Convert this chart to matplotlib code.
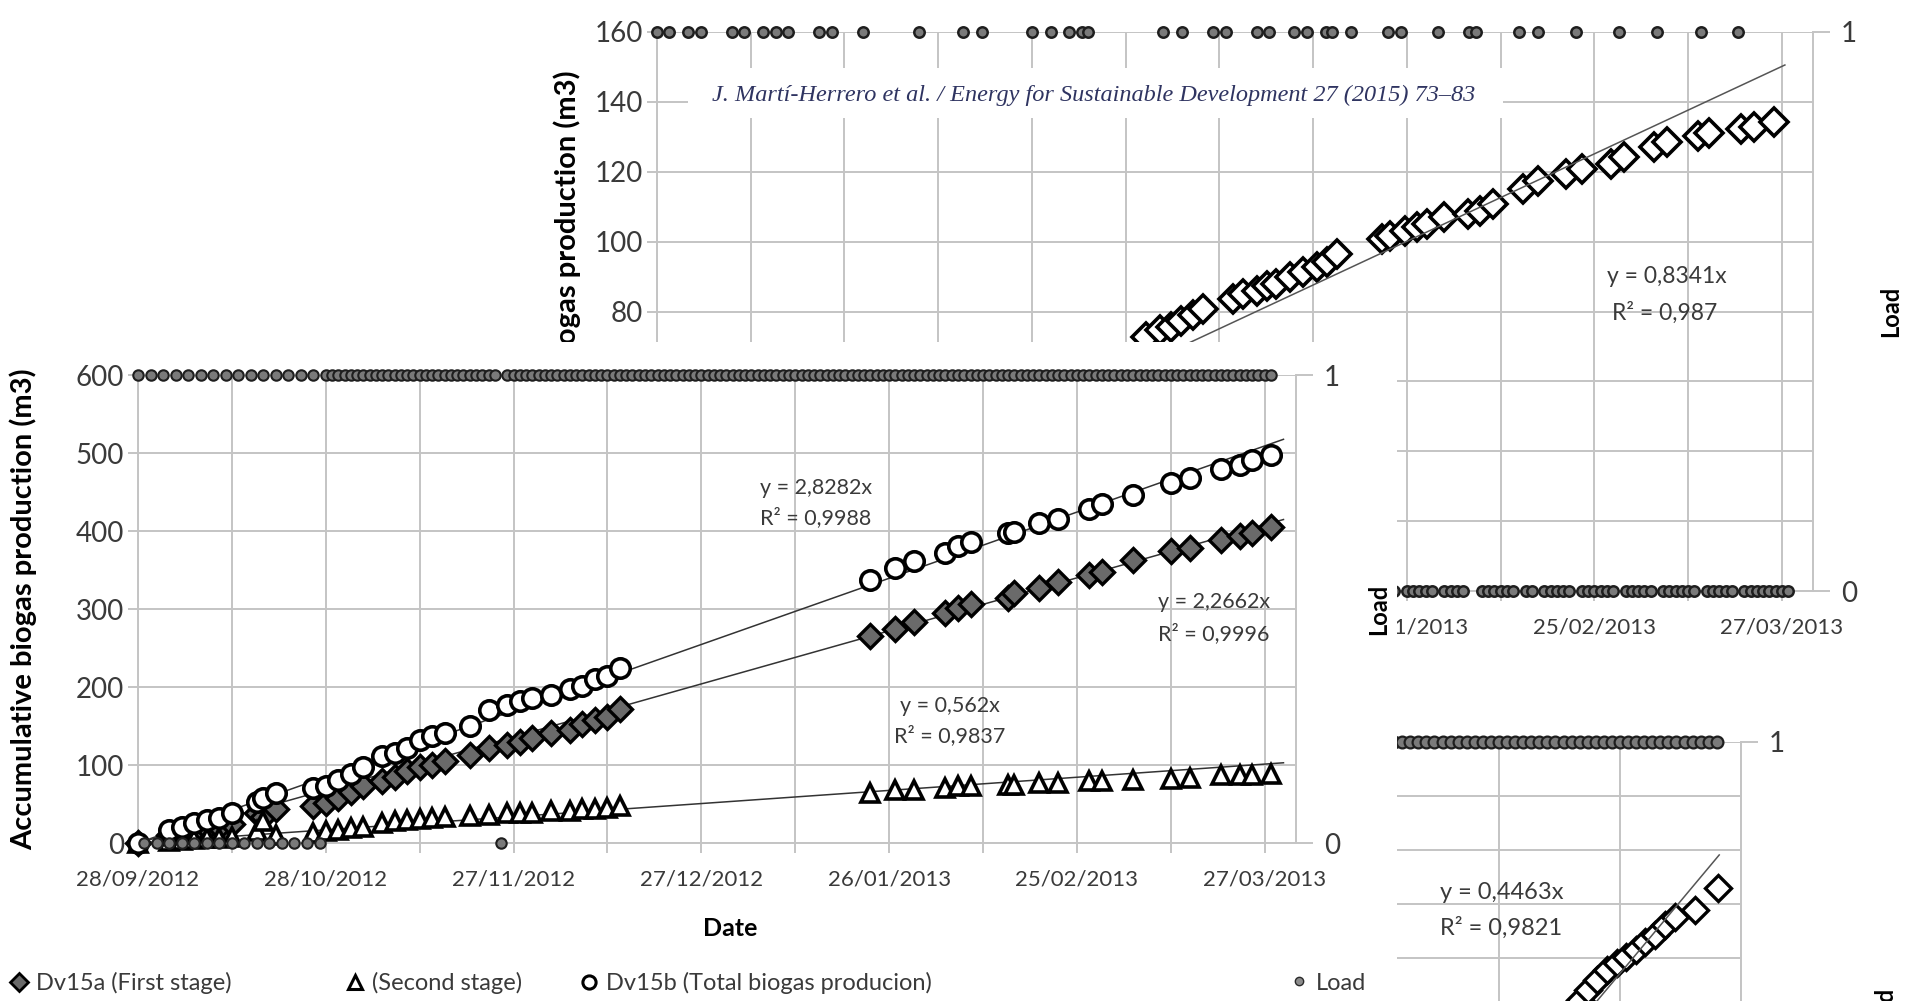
from datetime import date, timedelta

import matplotlib
matplotlib.use("Agg")
import matplotlib.pyplot as plt
import numpy as np
from matplotlib.legend import Legend
from matplotlib.lines import Line2D
from matplotlib.patches import Rectangle
from matplotlib.ticker import FuncFormatter, MultipleLocator

plt.rcParams["font.family"] = ["Lato", "DejaVu Sans"]

W, H = 1915, 1001
START = date(2012, 9, 28)
GRID = "#c4c4c4"
INK = "#3a3a3a"

# Dv15 digester (front chart); x = days since 28/09/2012
dv15_days = [0, 5, 7, 9, 11, 13, 15, 19, 20, 22, 28, 30, 32, 34, 36, 39, 41, 43, 45, 47,
             49, 53, 56, 59, 61, 63, 66, 69, 71, 73, 75, 77,
             117, 121, 124, 129, 131, 133, 139, 140, 144, 147, 152, 154, 159, 165, 168,
             173, 176, 178, 181]
dv15a_first = [0, 10, 13, 16, 19, 21, 24, 38, 33, 43, 47, 51, 58, 66, 73, 79, 85, 92, 98, 100,
               105, 113, 122, 126, 130, 134, 141, 145, 152, 158, 162, 172,
               265, 275, 283, 295, 301, 307, 314, 320, 327, 335, 344, 348, 363, 375, 378,
               389, 393, 398, 405]
dv15_second = [0, 3, 4, 5, 6, 7, 8, 15, 28, 10, 13, 15, 17, 19, 21, 26, 28, 30, 31, 32,
               33, 34, 36, 38, 38, 39, 41, 41, 43, 44, 45, 47,
               64, 68, 68, 70, 73, 73, 75, 75, 77, 77, 79, 79, 81, 82, 83, 87, 87, 87, 88]
dv15b_total = [0, 17, 21, 26, 30, 32, 38, 53, 58, 64, 70, 73, 81, 88, 98, 111, 115, 122, 132, 137,
               141, 150, 171, 177, 182, 186, 190, 197, 201, 210, 214, 224,
               337, 353, 361, 372, 381, 386, 397, 399, 410, 416, 428, 435, 446, 461, 468,
               480, 485, 491, 497]
dv15_load_days = np.arange(0, 182)
dv15_load_off_days = [1, 3, 5, 7, 9, 11, 13, 15, 17, 19, 21, 23, 25, 27, 29, 58]
dv15_fits = [(2.8282, "0,9988"), (2.2662, "0,9996"), (0.562, "0,9837")]

# digester behind, upper right
back_days = [78.3, 80.5, 82.3, 83.9, 85.8, 87.4, 92.2, 93.8, 96.0, 97.6, 99.1, 101.3, 103.4,
             105.6, 107.2, 108.8, 116.0, 117.3, 119.7, 121.6, 123.2, 125.9, 129.8, 131.7,
             133.8, 138.6, 141.0, 145.5, 148.0, 152.6, 154.8, 159.5, 161.6, 166.6, 168.4,
             173.4, 175.6, 178.7]
back_gas = [72.7, 74.6, 75.5, 77.4, 78.9, 80.8, 83.6, 85.1, 86.0, 87.4, 87.9, 89.8, 91.2,
            92.7, 94.1, 96.5, 100.8, 101.7, 103.1, 104.1, 105.1, 107.0, 107.9, 108.9,
            110.8, 115.0, 117.4, 119.3, 120.8, 122.2, 124.1, 127.0, 128.4, 130.3, 131.2,
            132.2, 132.7, 134.1]
back_load_days = np.arange(0, 182)
back_load_on_days = [0, 2, 5, 7, 12, 14, 17, 19, 21, 26, 28, 33, 42, 49, 52, 60, 63, 66, 68, 69,
                     81, 84, 89, 91, 96, 98, 102, 104, 107, 108, 111, 117, 119, 125, 130, 131,
                     138, 141, 147, 154, 160, 167, 173]
back_fit = (0.8341, "0,987")

# digester in the lower right corner
corner_days = [54.0, 56.0, 58.3, 60.7, 63.2, 65.5, 67.9, 70.2, 72.7, 75.1, 77.6, 82.6, 88.3]
corner_gas = [26.1, 27.0, 28.0, 28.9, 29.5, 30.1, 30.7, 31.5, 32.1, 33.1, 33.8, 34.4, 36.5]
corner_load_days = np.arange(4, 90, 2)
corner_fit = (0.4463, "0,9821")


def fig_rect(left, top, right, bottom):
    return [left / W, 1 - bottom / H, (right - left) / W, (bottom - top) / H]


def date_label(day, _pos):
    return (START + timedelta(days=int(round(day)))).strftime("%d/%m/%Y")


def make_chart(rect, zorder, *, xlim, ylim, ystep, xmajor, xminor=None, xoffset=0.0):
    ax = fig.add_axes(rect)
    ax.set_zorder(zorder)
    ax.patch.set_visible(False)
    ax.set_xlim(xlim)
    ax.set_ylim(ylim)
    ax.xaxis.set_major_locator(MultipleLocator(xmajor, offset=xoffset))
    if xminor:
        ax.xaxis.set_minor_locator(MultipleLocator(xminor, offset=xoffset))
    ax.xaxis.set_major_formatter(FuncFormatter(date_label))
    ax.yaxis.set_major_locator(MultipleLocator(ystep))
    ax.grid(which="both", axis="x", color=GRID, lw=1.4)
    ax.grid(which="major", axis="y", color=GRID, lw=1.4)
    ax.set_axisbelow(True)
    for side in ("top", "right"):
        ax.spines[side].set_visible(False)
    for side in ("left", "bottom"):
        ax.spines[side].set_color(GRID)
        ax.spines[side].set_linewidth(1.4)
    ax.tick_params(which="both", color=GRID, width=1.4, length=7, labelcolor=INK)
    ax.tick_params(axis="x", labelsize=16, pad=12)
    ax.tick_params(axis="y", labelsize=20, pad=3)

    ax_load = ax.twinx()
    ax_load.set_zorder(zorder + 0.05)
    ax_load.patch.set_visible(False)
    ax_load.set_ylim(0, 1)
    ax_load.set_yticks([0, 1])
    for side in ("top", "left", "bottom"):
        ax_load.spines[side].set_visible(False)
    ax_load.spines["right"].set_color(GRID)
    ax_load.spines["right"].set_linewidth(1.4)
    ax_load.tick_params(color=GRID, width=1.4, length=12, labelcolor=INK, labelsize=20, pad=8)
    return ax, ax_load


load_style = dict(ls="none", marker="o", mfc="#7a7a7a", mec="#1e1e1e", clip_on=False)
open_diamond = dict(ls="none", marker="D", mfc="white", mec="black", clip_on=False)

fig = plt.figure(figsize=(W / 100, H / 100), dpi=100, facecolor="white")

# ---- chart behind, top right ----
ax_b, ax_bl = make_chart(fig_rect(657, 32, 1813, 591), 0,
                         xlim=(0, 185), ylim=(0, 160), ystep=20, xmajor=30, xminor=15)
# tick labels that sit under the front chart are left blank
ax_b.xaxis.set_major_formatter(FuncFormatter(lambda d, p: date_label(d, p) if d >= 120 else ""))
ax_b.yaxis.set_major_formatter(FuncFormatter(lambda v, p: f"{v:.0f}" if v >= 80 else ""))
ax_b.plot(back_days, back_gas, ms=14, mew=2.6, **open_diamond)
fit_x = np.array([0, 180.5])
ax_b.plot(fit_x, back_fit[0] * fit_x, color="#555555", lw=1.1)
ax_b.text(161.6, 90, f"y = {back_fit[0]:.4f}x".replace(".", ","), ha="center", va="center",
          fontsize=16.5, color=INK)
ax_b.text(161.3, 79.6, f"R² = {back_fit[1]}", ha="center", va="center", fontsize=16.5, color=INK)
back_load = np.isin(back_load_days, back_load_on_days).astype(int)
ax_bl.plot(back_load_days, back_load, ms=7.5, mew=1.8, **load_style)
ax_b.set_ylabel("Accumulative biogas production (m3)", fontsize=21, fontweight="bold")
ax_b.yaxis.set_label_coords(-0.066, 0.5)
ax_bl.set_ylabel("Load", fontsize=17, fontweight="bold")
ax_bl.yaxis.set_label_coords(1.057, 0.5)

# journal header band across the top chart
fig.add_artist(Rectangle((688 / W, 1 - 118 / H), (1503 - 688) / W, 50 / H,
                         transform=fig.transFigure, fc="white", ec="none", zorder=1))
fig.text(1094 / W, 1 - 95 / H,
         "J. Martí-Herrero et al. / Energy for Sustainable Development 27 (2015) 73–83",
         ha="center", va="center", family="Liberation Serif", style="italic",
         fontsize=17.5, color="#2f3461", zorder=1.1)

# ---- chart in the lower right corner ----
fig.add_artist(Rectangle((1397 / W, 0), (W - 1397) / W, 351 / H,
                         transform=fig.transFigure, fc="white", ec="none", zorder=1.5))
ax_c, ax_cl = make_chart(fig_rect(1378, 742, 1741, 1282), 1.6,
                         xlim=(4, 94), ylim=(0, 50), ystep=5, xmajor=30, xoffset=4)
ax_c.tick_params(labelbottom=False, labelleft=False)
ax_c.plot(corner_days, corner_gas, ms=13, mew=2.4, **open_diamond)
fit_x = np.array([0, 88.6])
ax_c.plot(fit_x, corner_fit[0] * fit_x, color="#555555", lw=1.1)
ax_c.text(19.4, 36.1, f"y = {corner_fit[0]:.4f}x".replace(".", ","), ha="left", va="center",
          fontsize=17, color=INK)
ax_c.text(19.4, 32.8, f"R² = {corner_fit[1]}", ha="left", va="center", fontsize=17, color=INK)
ax_cl.plot(corner_load_days, np.ones(len(corner_load_days)), ms=8.5, mew=1.6, **load_style)
ax_cl.set_ylabel("Load", fontsize=17, fontweight="bold")
ax_cl.yaxis.set_label_coords(1.364, 0.5)

# ---- front chart ----
fig.add_artist(Rectangle((0, 0), 1397 / W, 659 / H,
                         transform=fig.transFigure, fc="white", ec="none", zorder=2))
ax, ax_l = make_chart(fig_rect(138, 375, 1296, 843), 3,
                      xlim=(0, 185), ylim=(0, 600), ystep=100, xmajor=30, xminor=15)

ax.plot(dv15_days, dv15a_first, ls="none", marker="D", ms=12.5, mfc="#6a6a6a", mec="black",
        mew=2.4, clip_on=False, zorder=3)
ax.plot(dv15_days, dv15_second, ls="none", marker="^", ms=13.5, mfc="white", mec="black",
        mew=2.6, clip_on=False, zorder=3)
ax.plot(dv15_days, dv15b_total, ls="none", marker="o", ms=14, mfc="white", mec="black",
        mew=2.6, clip_on=False, zorder=3)

fit_x = np.array([0, 183])
for slope, _ in dv15_fits:
    ax.plot(fit_x, slope * fit_x, color="#333333", lw=1.1, zorder=2.5)

eq_spots = [(99.4, 455, 417, "left"), (180.8, 309, 269, "right"), (129.7, 176, 137, "center")]
for (slope, r2), (x, y_eq, y_r2, ha) in zip(dv15_fits, eq_spots):
    ax.text(x, y_eq, f"y = {slope}x".replace(".", ","), ha=ha, va="center", fontsize=15.5, color=INK)
    ax.text(x, y_r2, f"R² = {r2}", ha=ha, va="center", fontsize=15.5, color=INK)

dv15_load = (~np.isin(dv15_load_days, dv15_load_off_days)).astype(int)
ax_l.plot(dv15_load_days, dv15_load, ms=7.5, mew=1.5, **load_style)

ax.set_ylabel("Accumulative biogas production (m3)", fontsize=21, fontweight="bold")
ax.yaxis.set_label_coords(-0.087, 0.5)
ax.set_xlabel("Date", fontsize=18, fontweight="bold")
ax.xaxis.set_label_coords(0.511, -0.158)
ax_l.set_ylabel("Load", fontsize=17, fontweight="bold")
ax_l.yaxis.set_label_coords(1.061, 0.5)

legend_entries = [
    (Line2D([], [], ls="none", marker="D", ms=9.5, mfc="#6a6a6a", mec="black", mew=2),
     "Dv15a (First stage)", 8),
    (Line2D([], [], ls="none", marker="^", ms=9.5, mfc="white", mec="black", mew=2.2),
     "(Second stage)", 344),
    (Line2D([], [], ls="none", marker="o", ms=9.5, mfc="white", mec="black", mew=2.2),
     "Dv15b (Total biogas producion)", 578),
    (Line2D([], [], ls="none", marker="o", ms=6, mfc="#8c8c8c", mec="#2a2a2a", mew=1),
     "Load", 1288),
]
for handle, label, x in legend_entries:
    leg = Legend(ax, [handle], [label], loc="center left",
                 bbox_to_anchor=(x / W, 1 - 983 / H), bbox_transform=fig.transFigure,
                 frameon=False, handlelength=0.9, handletextpad=0.3, borderpad=0,
                 borderaxespad=0, fontsize=17, labelcolor=INK)
    ax.add_artist(leg)

fig.savefig("out.png", dpi=100, facecolor="white")
